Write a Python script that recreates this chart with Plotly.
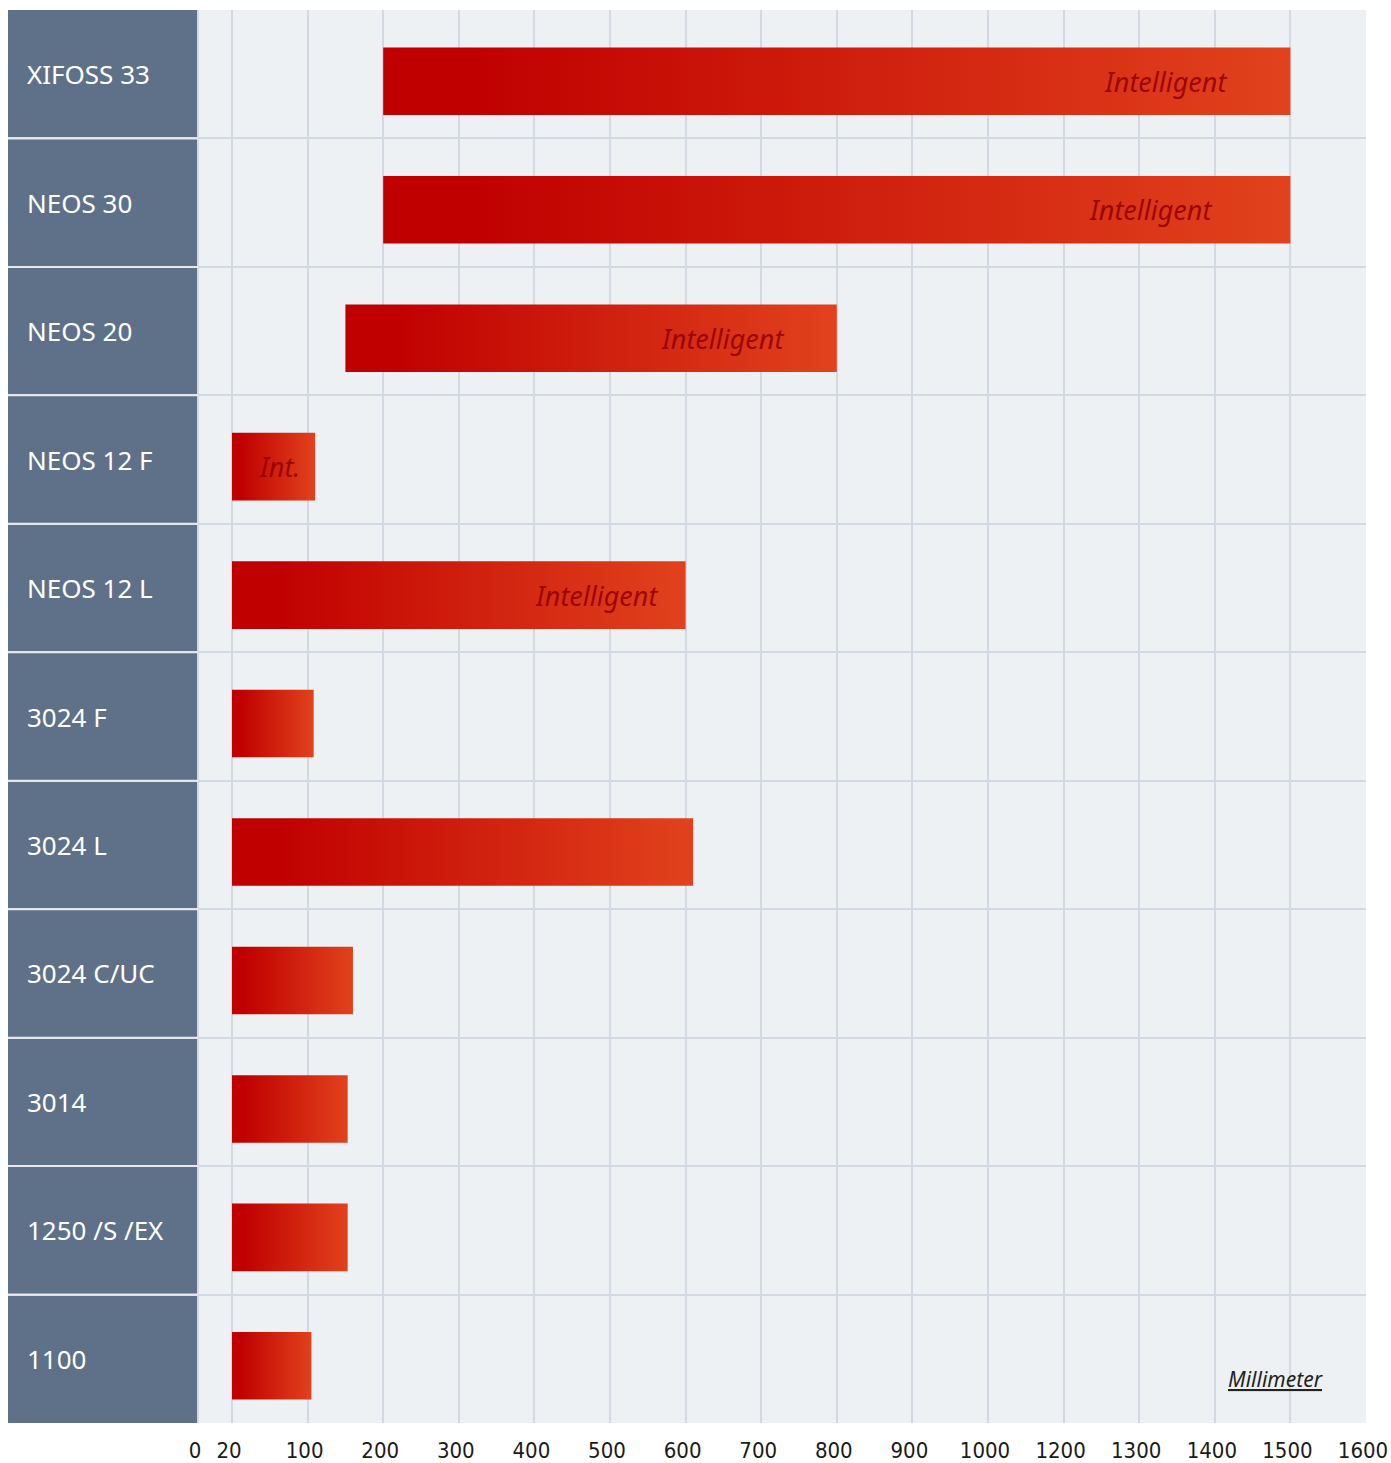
import numpy as np
import plotly.graph_objects as go

# ---- data ----
categories = ["XIFOSS 33", "NEOS 30", "NEOS 20", "NEOS 12 F", "NEOS 12 L",
              "3024 F", "3024 L", "3024 C/UC", "3014", "1250 /S /EX", "1100"]
range_start_mm = [200, 200, 150, 20, 20, 20, 20, 20, 20, 20, 20]
range_end_mm = [1500, 1500, 800, 110, 600, 108, 610, 160, 153, 153, 105]
bar_labels = ["Intelligent", "Intelligent", "Intelligent", "Int.", "Intelligent",
              "", "", "", "", "", ""]
tick_mm = [0, 20, 100, 200, 300, 400, 500, 600, 700, 800, 900, 1000,
           1200, 1300, 1400, 1500, 1600]
tick_labels = [str(v) for v in tick_mm]
unit_label = "Millimeter"

# ---- scale: the axis is evenly spaced per tick (non-linear in mm) ----
tick_pos = [0.55] + list(range(1, len(tick_mm)))


def scale(v):
    return float(np.interp(v, tick_mm, tick_pos))


x_min = 0.55 - 2.513
x_max = tick_pos[-1]

# ---- styles ----
label_shift = [-61, -76, -51, -13, -26, 0, 0, 0, 0, 0, 0]
bar_half = 0.263
bar_offset = 0.055
col_color = "#5e7189"
bg_color = "#edf1f4"
grid_color = "#d3d8e2"
grad = [[0, "#c00000"], [0.1, "#c00000"], [1, "#e1421d"]]

W, H = 1391, 1463
ML, MR, MT, MB = 8, 25, 10, 40
PW, PH = W - ML - MR, H - MT - MB

fig = go.Figure()
annotations = []
for i, (cat, s, e, lab) in enumerate(zip(categories, range_start_mm, range_end_mm, bar_labels)):
    x0, x1 = scale(s), scale(e)
    yc = i + bar_offset
    fig.add_trace(go.Scatter(
        x=[x0, x1, x1, x0, x0],
        y=[yc - bar_half, yc - bar_half, yc + bar_half, yc + bar_half, yc - bar_half],
        mode="lines", fill="toself", line=dict(width=0, color="rgba(0,0,0,0)"),
        fillgradient=dict(type="horizontal", colorscale=grad),
        hoverinfo="skip", showlegend=False,
    ))
    if lab:
        annotations.append(dict(
            x=x1, y=yc, xref="x", yref="y", text=f"<i>{lab}</i>", showarrow=False,
            xanchor="right", yanchor="middle", xshift=label_shift[i],
            font=dict(family="Noto Sans", size=27, color="rgba(150,0,0,0.9)"),
        ))
    annotations.append(dict(
        x=17 / PW, xref="paper", y=i, yref="y", text=cat, showarrow=False,
        xanchor="left", yanchor="middle",
        font=dict(family="Noto Sans", size=26, color="white"),
    ))

annotations.append(dict(
    x=(1276 - ML) / PW, xref="paper", y=(H - MB - 1379) / PH, yref="paper",
    text=f"<i><u>{unit_label}</u></i>", showarrow=False,
    xanchor="center", yanchor="middle",
    font=dict(family="Noto Sans", size=21, color="#222222"),
))

shapes = [dict(type="rect", xref="x", yref="paper", x0=x_min, x1=scale(0), y0=0, y1=1,
               fillcolor=col_color, line=dict(width=0), layer="between")]
for k in range(len(categories) - 1):
    shapes.append(dict(type="line", xref="x", yref="y", x0=x_min, x1=scale(0),
                       y0=k + 0.5, y1=k + 0.5, line=dict(color="#e6eaef", width=2),
                       layer="between"))

fig.update_layout(
    width=W, height=H,
    margin=dict(l=ML, r=MR, t=MT, b=MB, autoexpand=False),
    paper_bgcolor="white", plot_bgcolor=bg_color,
    annotations=annotations, shapes=shapes,
    xaxis=dict(range=[x_min, x_max], tickvals=[scale(v) for v in tick_mm],
               ticktext=tick_labels, showgrid=True, gridcolor=grid_color, gridwidth=2,
               zeroline=False, ticks="outside", ticklen=8, tickcolor="rgba(0,0,0,0)",
               ticklabelshift=-3,
               tickfont=dict(family="DejaVu Sans Condensed, DejaVu Sans", size=22,
                             color="#1a1a1a"),
               ticklabeloverflow="allow", automargin=False, fixedrange=True),
    yaxis=dict(range=[len(categories) - 0.5, -0.5],
               tickvals=[k - 0.5 for k in range(len(categories) + 1)],
               showticklabels=False, showgrid=True, gridcolor=grid_color, gridwidth=2,
               zeroline=False, automargin=False, fixedrange=True),
)

fig.write_html("out.html", config={"displayModeBar": False},
               post_script="document.body.style.margin='0px';"
                           "document.body.style.overflow='hidden';")
